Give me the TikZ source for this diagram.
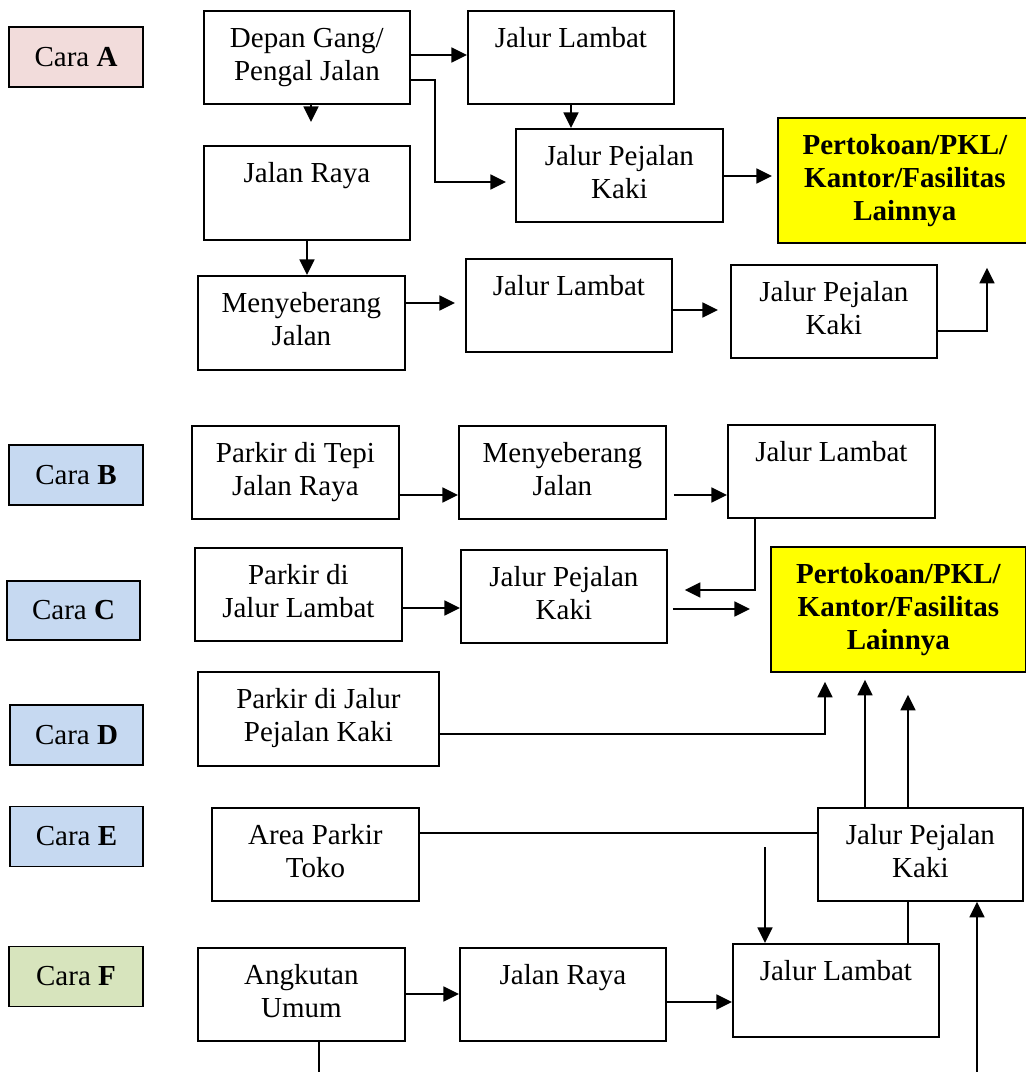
\documentclass[tikz,border=0pt]{standalone}
\usepackage{fontspec}
\setmainfont{Liberation Serif}
\usetikzlibrary{arrows.meta}
\definecolor{caraA}{HTML}{F2DCDB}
\definecolor{caraB}{HTML}{C6D9F1}
\definecolor{caraF}{HTML}{D7E4BD}
\definecolor{kuning}{HTML}{FFFF00}
\newcommand\mybox[7]{\node[#1, anchor=north west] (#2) at (#3,#4) {\parbox[t][\dimexpr(#6pt-#4pt)/2\relax][t]{\dimexpr(#5pt-#3pt)/2\relax}{\centering\rule{0pt}{18.5pt}#7}};}
\newcommand\caranode[6]{\node[cara, fill=#1, minimum width=#4*0.5pt, minimum height=#5*0.5pt] (#2) at (#3) {Cara \textbf{#6}};}
\begin{document}
\begin{tikzpicture}[x=0.5pt, y=-0.5pt,
  every node/.style={font=\fontsize{14.5}{16.5}\selectfont},
  bx/.style={draw, line width=0.9pt, inner sep=0pt, fill=white},
  yel/.style={draw, line width=0.9pt, inner sep=0pt, fill=kuning, font=\fontsize{14.5}{16.5}\selectfont\bfseries},
  cara/.style={draw, line width=0.9pt, inner sep=0pt},
  arr/.style={line width=1.15pt, -{Triangle[length=7.8pt,width=7.4pt]}},
  ln/.style={line width=1.15pt},
  thin/.style={line width=0.8pt}]
\useasboundingbox (0,0) rectangle (1025,1072);

% Cara A block
\caranode{caraA}{cA}{76,57}{134}{60}{A}
\mybox{bx}{d1}{203}{10}{409}{103}{Depan Gang/\\Pengal Jalan}
\mybox{bx}{jl1}{467}{10}{673}{103}{Jalur Lambat}
\mybox{bx}{jr1}{203}{145}{409}{239}{Jalan Raya}
\mybox{bx}{jp1}{515}{128}{722}{221}{Jalur Pejalan\\Kaki}
\mybox{yel}{y1}{777}{117}{1031}{242}{Pertokoan/PKL/\\Kantor/Fasilitas\\Lainnya}
\mybox{bx}{m1}{197}{275}{404}{369}{Menyeberang\\Jalan}
\mybox{bx}{jl2}{465}{258}{671}{351}{Jalur Lambat}
\mybox{bx}{jp2}{730}{264}{936}{357}{Jalur Pejalan\\Kaki}

\draw[arr] (d1.east |- 0,55) -- (jl1.west |- 0,55);
\draw[arr, shorten >=4.5pt] (d1.east |- 0,80) -| (435,182) -- (jp1.west |- 0,182);
\draw[arr, shorten >=11.5pt] (d1.south -| 311,0) -- (jr1.north -| 311,0);
\draw[arr] (jr1.south -| 307,0) -- (m1.north -| 307,0);
\draw[arr] (jl1.south -| 571,0) -- (jp1.north -| 571,0);
\draw[arr, shorten >=2.5pt] (jp1.east |- 0,176) -- (y1.west |- 0,176);
\draw[arr, shorten >=5pt] (m1.east |- 0,303) -- (jl2.west |- 0,303);
\draw[arr, shorten >=6pt] (jl2.east |- 0,310) -- (jp2.west |- 0,310);
\draw[arr, shorten >=12pt] (jp2.east |- 0,331) -| (y1.south -| 987,0);

% Cara B-F block
\caranode{caraB}{cB}{76,475}{134}{60}{B}
\caranode{caraB}{cC}{73.5,610.5}{133}{59}{C}
\caranode{caraB}{cD}{76.5,735}{133}{60}{D}
\caranode{caraB}{cE}{76.5,836.5}{133}{60}{E}
\caranode{caraF}{cF}{76,976.5}{134}{60}{F}

\mybox{bx}{pt1}{191}{425}{398}{518}{Parkir di Tepi\\Jalan Raya}
\mybox{bx}{m2}{458}{425}{665}{518}{Menyeberang\\Jalan}
\mybox{bx}{jl3}{727}{424}{934}{517}{Jalur Lambat}
\mybox{bx}{pl}{194}{547}{401}{640}{Parkir di\\Jalur Lambat}
\mybox{bx}{jp3}{460}{549}{666}{642}{Jalur Pejalan\\Kaki}
\mybox{yel}{y2}{770}{546}{1025}{671}{Pertokoan/PKL/\\Kantor/Fasilitas\\Lainnya}
\mybox{bx}{pk}{197}{671}{438}{765}{Parkir di Jalur\\Pejalan Kaki}
\mybox{bx}{ap}{211}{807}{418}{900}{Area Parkir\\Toko}
\mybox{bx}{jp4}{817}{807}{1022}{900}{Jalur Pejalan\\Kaki}
\mybox{bx}{au}{197}{947}{404}{1040}{Angkutan\\Umum}
\mybox{bx}{jr2}{459}{947}{665}{1040}{Jalan Raya}
\mybox{bx}{jl4}{732}{943}{938}{1036}{Jalur Lambat}

\draw[arr] (pt1.east |- 0,495) -- (m2.west |- 0,495);
\draw[arr, shorten <=3.5pt] (m2.east |- 0,495) -- (jl3.west |- 0,495);
\draw[arr, shorten >=8.5pt] (jl3.south -| 755,0) |- (jp3.east |- 0,590);
\draw[arr] (pl.east |- 0,608) -- (jp3.west |- 0,608);
\draw[arr, shorten <=2.5pt, shorten >=10pt] (jp3.east |- 0,609) -- (y2.west |- 0,609);
\draw[arr, shorten >=4.5pt] (pk.east |- 0,734) -| (y2.south -| 825,0);
\draw[thin] (ap.east |- 0,833) -- (jp4.west |- 0,833);
\draw[arr, shorten >=3.5pt] (jp4.north -| 865,0) -- (y2.south -| 865,0);
\draw[arr, shorten >=11pt] (jp4.north -| 908,0) -- (y2.south -| 908,0);
\coordinate (s1) at (765,847);
\draw[arr] (s1) -- (jl4.north -| 765,0);
\draw[ln] (jl4.north -| 908,0) -- (jp4.south -| 908,0);
\coordinate (s2) at (977,1075);
\draw[arr] (s2) -- (jp4.south -| 977,0);
\draw[arr] (au.east |- 0,994) -- (jr2.west |- 0,994);
\draw[arr] (jr2.east |- 0,1002) -- (jl4.west |- 0,1002);
\coordinate (s3) at (319,1075);
\draw[ln] (au.south -| 319,0) -- (s3);
\end{tikzpicture}
\end{document}
